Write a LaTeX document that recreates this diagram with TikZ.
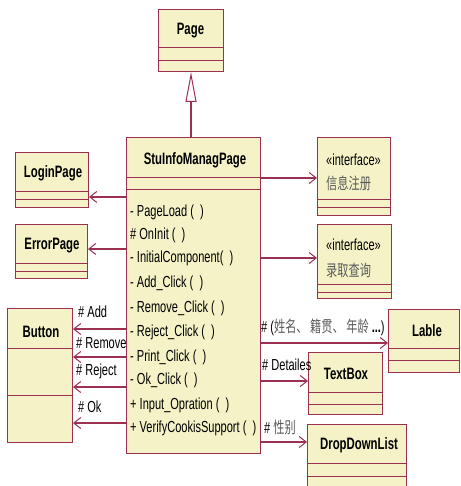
\documentclass[tikz,border=0pt]{standalone}
\usepackage{fontspec}
\setmainfont[FakeStretch=0.69]{Liberation Sans}
\newfontfamily\cjk[FakeStretch=0.7]{Noto Sans CJK SC}
\usetikzlibrary{arrows.meta}

\definecolor{umlfill}{HTML}{F4F2C6}
\definecolor{umlline}{HTML}{9B3050}
\definecolor{cjkgray}{HTML}{5A5A5A}

\tikzset{
  x=1pt, y=-1pt,
  classbox/.style={draw=umlline, fill=umlfill, line width=1pt, rectangle,
    inner sep=0pt, anchor=north west},
  divider/.style={draw=umlline, line width=1pt},
  cname/.style={font=\fontsize{16.5}{18}\selectfont\bfseries, inner sep=0pt},
  member/.style={font=\fontsize{16}{18}\selectfont, anchor=west, inner sep=0pt},
  role/.style={font=\fontsize{16}{18}\selectfont, anchor=west, inner sep=0pt},
  assoc/.style={draw=umlline, line width=1.2pt,
    -{Straight Barb[length=7pt,width=11pt,line width=1pt]}},
  inherit/.style={draw=umlline, line width=1.2pt,
    -{Triangle[length=30pt,width=11pt,fill=white,line width=1pt]}},
}

% class box: name, left, top, right, bottom
\newcommand{\umlclass}[5]{%
  \node[classbox, minimum width=#4pt-#2pt, minimum height=#5pt-#3pt] (#1) at (#2,#3) {};}
\newcommand{\umldiv}[2]{\draw[divider] (#1.west |- 0,#2) -- (#1.east |- 0,#2);}

\begin{document}
\begin{tikzpicture}
\useasboundingbox[fill=white] (0,0) rectangle (460,486);

% ---- classes ----
\umlclass{page}{158}{9}{223}{71}
\umldiv{page}{48}\umldiv{page}{61}
\node[cname] (pagename) at (190.5,31) {Page};

\umlclass{main}{126}{137}{260}{453}
\umldiv{main}{178}\umldiv{main}{189}
\node[cname] (mainname) at (195,160) {StuInfoManagPage};
\node[member] (m1)  at (130,212) {- PageLoad (\ \ )};
\node[member] (m2)  at (130,235) {\# OnInit (\ \ )};
\node[member] (m3)  at (130,258) {- InitialComponent(\ \ )};
\node[member] (m4)  at (130,283) {- Add\_Click (\ \ )};
\node[member] (m5)  at (130,308) {- Remove\_Click (\ \ )};
\node[member] (m6)  at (130,332) {- Reject\_Click (\ \ )};
\node[member] (m7)  at (130,357) {- Print\_Click (\ \ )};
\node[member] (m8)  at (130,380) {- Ok\_Click (\ \ )};
\node[member] (m9)  at (130,405) {+ Input\_Opration (\ \ )};
\node[member] (m10) at (130,428) {+ VerifyCookisSupport (\ \ )};

\umlclass{login}{15}{152}{88}{207}
\umldiv{login}{191}\umldiv{login}{199}
\node[cname] (loginname) at (53,173) {LoginPage};

\umlclass{error}{15}{224}{87}{278}
\umldiv{error}{263}\umldiv{error}{271}
\node[cname] (errorname) at (52,246) {ErrorPage};

\umlclass{info}{317}{137}{390}{215}
\umldiv{info}{199}\umldiv{info}{207}
\node[member] (infost) at (326,160) {«interface»};
\node[member, text=cjkgray] (infoname) at (326,183) {\cjk 信息注册};

\umlclass{query}{317}{224}{391}{298}
\umldiv{query}{284}\umldiv{query}{292}
\node[member] (queryst) at (326,245) {«interface»};
\node[member, text=cjkgray] (queryname) at (326,270) {\cjk 录取查询};

\umlclass{button}{7}{308}{72}{442}
\umldiv{button}{348}\umldiv{button}{395}
\node[cname] (buttonname) at (41,332) {Button};

\umlclass{lable}{388}{309}{459}{372}
\umldiv{lable}{348}\umldiv{lable}{360}
\node[cname] (lablename) at (427,331) {Lable};

\umlclass{textbox}{308}{352}{382}{414}
\umldiv{textbox}{392}\umldiv{textbox}{404}
\node[cname] (textboxname) at (346,374) {TextBox};

\umlclass{ddl}{307}{424}{406}{485.5}
\umldiv{ddl}{463}\umldiv{ddl}{476}
\node[cname] (ddlname) at (359,445) {DropDownList};

% ---- generalization ----
\draw[inherit] (main.north -| 191,0) -- (page.south -| 191,0);

% ---- associations ----
\draw[assoc] (main.west |- 0,197) -- (login.east |- 0,197);
\draw[assoc] (main.west |- 0,249) -- (error.east |- 0,249);
\draw[assoc] (main.east |- 0,178) -- (info.west |- 0,178);
\draw[assoc] (main.east |- 0,258) -- (query.west |- 0,258);

\draw[assoc] (main.west |- 0,329) -- (button.east |- 0,329);
\draw[assoc] (main.west |- 0,357) -- (button.east |- 0,357);
\draw[assoc] (main.west |- 0,387) -- (button.east |- 0,387);
\draw[assoc] (main.west |- 0,423) -- (button.east |- 0,423);
\node[role] (radd)    at (78,312) {\# Add};
\node[role] (rremove) at (76,343) {\# Remove};
\node[role] (rreject) at (76,371) {\# Reject};
\node[role] (rok)     at (78,407) {\# Ok};

\draw[assoc] (main.east |- 0,343) -- (lable.west |- 0,343);
\draw[assoc] (main.east |- 0,381) -- (textbox.west |- 0,381);
\draw[assoc] (main.east |- 0,442) -- (ddl.west |- 0,442);
\node[role] (rlable) at (261,327)
  {\# (\textcolor{cjkgray}{\cjk 姓名、 籍贯、 年龄} \textbf{...})};
\node[role] (rtext) at (262,365) {\# Detailes};
\node[role] (rddl)  at (264,427) {\# \textcolor{cjkgray}{\cjk 性别}};
\end{tikzpicture}
\end{document}
